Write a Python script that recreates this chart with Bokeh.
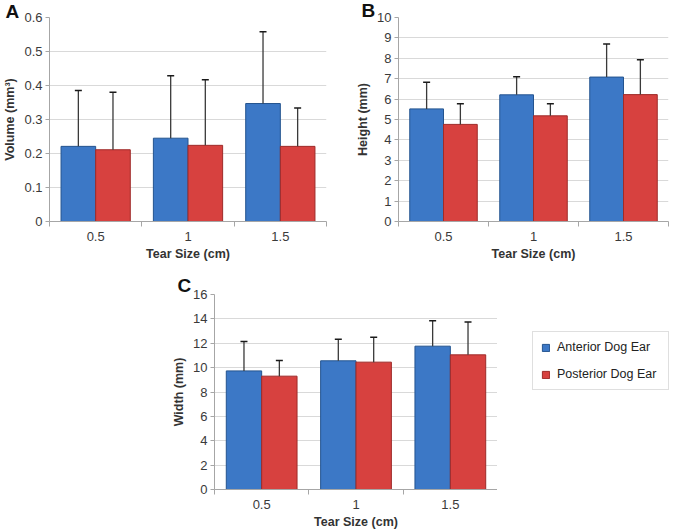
from bokeh.plotting import figure
from bokeh.models import (Range1d, FixedTicker, NumeralTickFormatter, ColumnDataSource,
                          Whisker, TeeHead, Title, Legend, LegendItem)
from bokeh.layouts import row, column
from bokeh.embed import file_html
from bokeh.resources import INLINE

# ---------------- data ----------------
categories = ["0.5", "1", "1.5"]           # tear size (cm)
series_names = ["Anterior Dog Ear", "Posterior Dog Ear"]

volume_anterior = [0.221, 0.245, 0.347]
volume_anterior_sd = [0.164, 0.184, 0.211]
volume_posterior = [0.211, 0.224, 0.221]
volume_posterior_sd = [0.169, 0.193, 0.113]

height_anterior = [5.52, 6.21, 7.08]
height_anterior_sd = [1.30, 0.89, 1.62]
height_posterior = [4.76, 5.18, 6.22]
height_posterior_sd = [1.01, 0.59, 1.71]

width_anterior = [9.73, 10.56, 11.76]
width_anterior_sd = [2.41, 1.76, 2.09]
width_posterior = [9.30, 10.45, 11.05]
width_posterior_sd = [1.29, 2.05, 2.70]

volume_ticks = [0, 0.1, 0.2, 0.3, 0.4, 0.5, 0.6]
height_ticks = [0, 1, 2, 3, 4, 5, 6, 7, 8, 9, 10]
width_ticks = [0, 2, 4, 6, 8, 10, 12, 14, 16]

# ---------------- style ----------------
FONT = "Liberation Sans"
BLUE, BLUE_EDGE = "#3C78C6", "#24548F"
RED, RED_EDGE = "#D7413F", "#9E2B29"
BAR_W = 0.375


def make_panel(width, height, left, right, top, bottom, ymax, yticks, ylabel,
               ant, ant_sd, post, post_sd, letter, letter_dx, letter_dy, fmt=None):
    p = figure(width=width, height=height, x_range=Range1d(0, len(categories)),
               y_range=Range1d(0, ymax), output_backend="svg", toolbar_location=None,
               min_border_left=left, min_border_right=right, min_border_top=top,
               min_border_bottom=bottom)
    p.outline_line_color = None
    p.xgrid.visible = False
    p.ygrid.grid_line_color = "#D9D9D9"
    p.ygrid.grid_line_width = 1

    centers = [i + 0.5 for i in range(len(categories))]
    src = ColumnDataSource(dict(
        x=centers,
        xa=[c - BAR_W / 2 for c in centers],
        xp=[c + BAR_W / 2 for c in centers],
        ant=ant, post=post,
        ant_top=[a + s for a, s in zip(ant, ant_sd)],
        post_top=[a + s for a, s in zip(post, post_sd)],
    ))
    p.vbar(x="xa", top="ant", bottom=0, width=BAR_W, source=src,
           fill_color=BLUE, line_color=BLUE_EDGE, line_width=1)
    p.vbar(x="xp", top="post", bottom=0, width=BAR_W, source=src,
           fill_color=RED, line_color=RED_EDGE, line_width=1)

    for base, lo, up in (("xa", "ant", "ant_top"), ("xp", "post", "post_top")):
        w = Whisker(source=src, base=base, lower=lo, upper=up, dimension="height",
                    line_color="#3A3A3A", line_width=1.3, lower_head=None,
                    upper_head=TeeHead(size=7, line_color="#1A1A1A", line_width=1.5),
                    level="annotation")
        p.add_layout(w)

    # x axis
    xa = p.xaxis[0]
    xa.ticker = FixedTicker(ticks=centers, minor_ticks=list(range(len(categories) + 1)))
    xa.major_label_overrides = {c: lab for c, lab in zip(centers, categories)}
    xa.major_tick_out = 0
    xa.major_tick_in = 0
    xa.minor_tick_out = 5
    xa.minor_tick_in = 0
    xa.minor_tick_line_color = "#A6A6A6"
    xa.axis_line_color = "#A6A6A6"
    xa.major_label_standoff = 5
    xa.major_label_text_font = FONT
    xa.major_label_text_font_size = "13px"
    xa.major_label_text_color = "#3A3A3A"
    xa.axis_label = "Tear Size (cm)"
    xa.axis_label_text_font = FONT
    xa.axis_label_text_font_size = "12.5px"
    xa.axis_label_text_font_style = "bold"
    xa.axis_label_text_color = "#333333"
    xa.axis_label_standoff = 3

    # y axis
    ya = p.yaxis[0]
    ya.ticker = FixedTicker(ticks=yticks)
    if fmt:
        ya.formatter = NumeralTickFormatter(format=fmt)
    ya.major_tick_out = 4
    ya.major_tick_in = 0
    ya.minor_tick_out = 0
    ya.minor_tick_in = 0
    ya.major_tick_line_color = "#A6A6A6"
    ya.axis_line_color = "#A6A6A6"
    ya.major_label_standoff = 3
    ya.major_label_text_font = FONT
    ya.major_label_text_font_size = "13px"
    ya.major_label_text_color = "#3A3A3A"
    ya.axis_label = ylabel
    ya.axis_label_text_font = FONT
    ya.axis_label_text_font_size = "12.5px"
    ya.axis_label_text_font_style = "bold"
    ya.axis_label_text_color = "#333333"
    ya.axis_label_standoff = 4

    t = Title(text=letter, align="left", offset=letter_dx, standoff=letter_dy,
              text_font=FONT, text_font_size="19px", text_font_style="bold",
              text_color="#111111")
    p.add_layout(t, "above")
    return p


pA = make_panel(330, 268, 47, 4, 17, 46, 0.6, volume_ticks, "Volume (mm³)",
                volume_anterior, volume_anterior_sd, volume_posterior, volume_posterior_sd,
                "A", -44, -8, fmt="0.[0]")
pB = make_panel(345, 268, 68, 7, 16, 47, 10, height_ticks, "Height (mm)",
                height_anterior, height_anterior_sd, height_posterior, height_posterior_sd,
                "B", -37, -7)
pC = make_panel(497, 263, 214, 0, 26, 40, 16, width_ticks, "Width (mm)",
                width_anterior, width_anterior_sd, width_posterior, width_posterior_sd,
                "C", -37, -2)

# legend panel (holds only the legend key); frame aligned with panel C
pL = figure(width=178, height=263, x_range=Range1d(0, 1), y_range=Range1d(0, 1),
            output_backend="svg", toolbar_location=None,
            min_border_left=35, min_border_top=26, min_border_right=0, min_border_bottom=40,
            x_axis_location=None, y_axis_location=None)
pL.outline_line_color = None
pL.grid.visible = False
nan = float("nan")
key_a = pL.vbar(x=[nan], top=[nan], width=0.1, fill_color=BLUE, line_color=BLUE_EDGE)
key_p = pL.vbar(x=[nan], top=[nan], width=0.1, fill_color=RED, line_color=RED_EDGE)
legend = Legend(items=[LegendItem(label=series_names[0], renderers=[key_a]),
                       LegendItem(label=series_names[1], renderers=[key_p])],
                location=(0, 99), orientation="vertical",
                border_line_color="#BFBFBF", border_line_width=1,
                background_fill_color="white", background_fill_alpha=1,
                padding=8, spacing=13, margin=0,
                glyph_width=9, glyph_height=9, label_standoff=7,
                label_height=13, label_width=103,
                label_text_font=FONT, label_text_font_size="12.5px",
                label_text_color="#222222")
pL.add_layout(legend)

layout = column(row(pA, pB), row(pC, pL))
open("out.html", "w").write(file_html(layout, INLINE))
